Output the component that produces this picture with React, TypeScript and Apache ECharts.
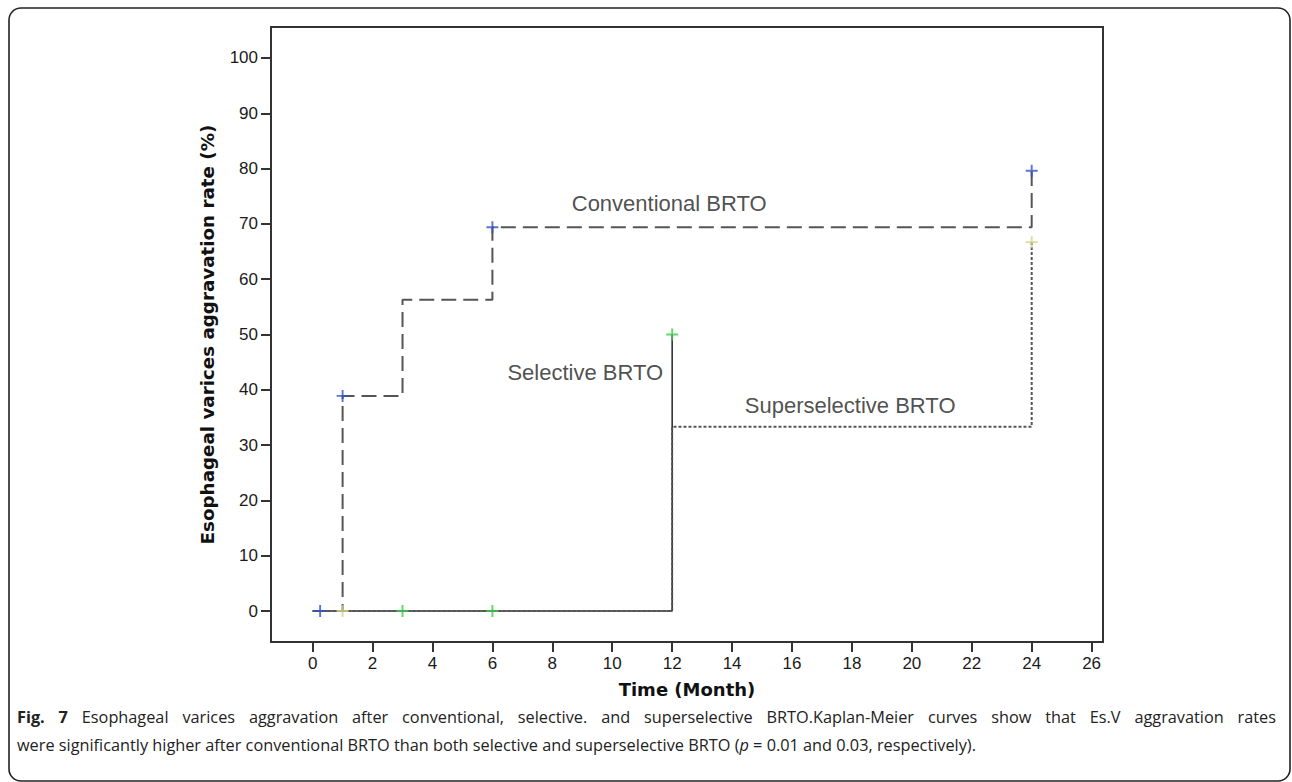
import React, { useEffect, useRef } from "react";
import * as echarts from "echarts";

// ---- data ----
const xTicks = [0, 2, 4, 6, 8, 10, 12, 14, 16, 18, 20, 22, 24, 26];
const yTicks = [0, 10, 20, 30, 40, 50, 60, 70, 80, 90, 100];

const conventionalTime = [0, 1, 3, 6, 24];
const conventionalRate = [0, 38.9, 56.3, 69.4, 79.6];
const selectiveTime = [0, 12];
const selectiveRate = [0, 50];
const superselectiveTime = [0, 12, 24];
const superselectiveRate = [0, 33.3, 66.7];

const conventionalCensorT = [0.25, 1, 6, 24];
const conventionalCensorR = [0, 38.9, 69.4, 79.6];
const superselectiveCensorT = [1, 24];
const superselectiveCensorR = [0, 66.7];
const selectiveCensorT = [3, 6, 12];
const selectiveCensorR = [0, 0, 50];

const curveLabels = ["Conventional BRTO", "Selective BRTO", "Superselective BRTO"];
const curveLabelT = [11.9, 9.1, 17.94];
const curveLabelR = [73.7, 43.2, 37.1];

const captionBold = "Fig. 7";
const captionLine1 =
  "Esophageal varices aggravation after conventional, selective. and superselective BRTO.Kaplan-Meier curves show that Es.V aggravation rates";
const captionLine2a =
  "were significantly higher after conventional BRTO than both selective and superselective BRTO (";
const captionLine2b = " = 0.01 and 0.03, respectively).";

const zip = (a: number[], b: number[]) => a.map((v, i) => [v, b[i]]);

const PLUS = "path://M0,4.2H10V5.8H0Z M4.2,0H5.8V10H4.2Z";

const CAP_FONT = "Open Sans";
const CAP_SIZE = 16.3;
const CAP_LEFT = 17;
const CAP_LINE1_WIDTH = 1259;

function buildJustifiedLine1() {
  const canvas = document.createElement("canvas");
  const ctx = canvas.getContext("2d")!;
  const boldWords = captionBold.split(" ");
  const normWords = captionLine1.split(" ");
  let total = 0;
  ctx.font = `bold ${CAP_SIZE}px "${CAP_FONT}"`;
  boldWords.forEach((w) => (total += ctx.measureText(w).width));
  ctx.font = `${CAP_SIZE}px "${CAP_FONT}"`;
  normWords.forEach((w) => (total += ctx.measureText(w).width));
  const nSpaces = boldWords.length + normWords.length - 1;
  let gap = (CAP_LINE1_WIDTH - total) / nSpaces;
  if (!(gap > 2 && gap < 20)) gap = 12;
  const parts: string[] = [];
  boldWords.forEach((w) => parts.push(`{b|${w}}`));
  normWords.forEach((w) => parts.push(`{n|${w}}`));
  return { text: parts.join("{s| }"), gap };
}

export default function App() {
  const ref = useRef<HTMLDivElement>(null);
  useEffect(() => {
    if (!ref.current) return;
    const chart = echarts.init(ref.current, undefined, { renderer: "svg" });
    const tickFont = { fontFamily: "Liberation Sans", fontSize: 17, color: "#1a1a1a" };
    const line1 = buildJustifiedLine1();
    const capN = { fontFamily: CAP_FONT, fontSize: CAP_SIZE, fill: "#222" };
    chart.setOption({
      animation: false,
      backgroundColor: "#fff",
      grid: {
        left: 271,
        top: 27,
        right: 189,
        bottom: 140,
        show: true,
        borderColor: "#333",
        borderWidth: 2,
        backgroundColor: "transparent",
      },
      xAxis: {
        type: "value",
        min: -1.39,
        max: 26.38,
        name: "Time (Month)",
        nameLocation: "middle",
        nameGap: 38,
        nameTextStyle: {
          fontFamily: "DejaVu Sans",
          fontWeight: "bold",
          fontSize: 18,
          color: "#111",
          verticalAlign: "top",
        },
        axisLine: { show: true, onZero: false, lineStyle: { color: "#333", width: 2 } },
        axisTick: { show: true, inside: false, length: 10, customValues: xTicks, lineStyle: { color: "#333", width: 2 } },
        axisLabel: { ...tickFont, margin: 13, customValues: xTicks },
        splitLine: { show: false },
      },
      yAxis: {
        type: "value",
        min: -5.6,
        max: 105.6,
        name: "Esophageal varices aggravation rate (%)",
        nameLocation: "middle",
        nameGap: 55,
        nameTextStyle: {
          fontFamily: "DejaVu Sans",
          fontWeight: "bold",
          fontSize: 18.3,
          color: "#111",
        },
        axisLine: { show: true, onZero: false, lineStyle: { color: "#333", width: 2 } },
        axisTick: { show: true, inside: false, length: 10, customValues: yTicks, lineStyle: { color: "#333", width: 2 } },
        axisLabel: { ...tickFont, margin: 13, customValues: yTicks },
        splitLine: { show: false },
      },
      series: [
        {
          name: "Selective BRTO",
          type: "line",
          step: "end",
          symbol: "none",
          data: zip(selectiveTime, selectiveRate),
          lineStyle: { color: "#333", width: 1.6, type: "solid" },
          z: 3,
        },
        {
          name: "Superselective BRTO",
          type: "line",
          step: "end",
          symbol: "none",
          data: zip(superselectiveTime, superselectiveRate),
          lineStyle: { color: "#555", width: 2, type: [3, 2] },
          z: 3,
        },
        {
          name: "Conventional BRTO",
          type: "line",
          step: "end",
          symbol: "none",
          data: zip(conventionalTime, conventionalRate),
          lineStyle: { color: "#555", width: 2, type: [15, 7] },
          z: 3,
        },
        {
          name: "Conventional censored",
          type: "scatter",
          symbol: PLUS,
          symbolSize: 12,
          data: zip(conventionalCensorT, conventionalCensorR),
          itemStyle: { color: "#3552c4" },
          z: 5,
        },
        {
          name: "Superselective censored",
          type: "scatter",
          symbol: PLUS,
          symbolSize: 12,
          data: zip(superselectiveCensorT, superselectiveCensorR),
          itemStyle: { color: "#d6cf8a" },
          z: 5,
        },
        {
          name: "Selective censored",
          type: "scatter",
          symbol: PLUS,
          symbolSize: 12,
          data: zip(selectiveCensorT, selectiveCensorR),
          itemStyle: { color: "#3fc94a" },
          z: 5,
        },
        {
          name: "Curve labels",
          type: "scatter",
          symbolSize: 0,
          silent: true,
          data: curveLabels.map((n, i) => ({ value: [curveLabelT[i], curveLabelR[i]], name: n })),
          label: {
            show: true,
            position: "inside",
            formatter: (p: any) => p.name,
            fontFamily: "Liberation Sans",
            fontSize: 22,
            color: "#222",
          },
          z: 6,
        },
      ],
      graphic: [
        {
          type: "rect",
          shape: { x: 9, y: 8, width: 1281, height: 773, r: 12 },
          style: { fill: "none", stroke: "#222", lineWidth: 1.6 },
          silent: true,
        },
        {
          type: "text",
          x: CAP_LEFT,
          y: 717,
          style: {
            text: line1.text,
            verticalAlign: "middle",
            rich: {
              b: { ...capN, fontWeight: "bold" },
              n: capN,
              s: { ...capN, width: line1.gap },
            },
          },
        },
        {
          type: "text",
          x: CAP_LEFT,
          y: 745,
          style: {
            text: "{n|" + captionLine2a + "}{i|p}{n|" + captionLine2b + "}",
            verticalAlign: "middle",
            rich: {
              n: capN,
              i: { ...capN, fontStyle: "italic" },
            },
          },
        },
      ],
    });
    return () => chart.dispose();
  }, []);
  return (
    <div
      ref={ref}
      style={{ position: "fixed", left: 0, top: 0, width: 1292, height: 782 }}
    />
  );
}
